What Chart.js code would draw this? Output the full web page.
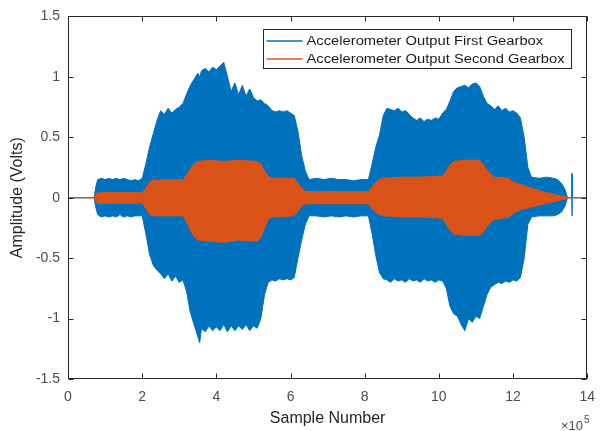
<!DOCTYPE html>
<html><head><meta charset="utf-8">
<script src="https://cdn.jsdelivr.net/npm/chart.js@4.4.0/dist/chart.umd.min.js"></script>
<style>html,body{margin:0;padding:0;background:#fff;}#wrap{width:605px;height:431px;}</style>
</head><body><div id="wrap"><canvas id="c" width="605" height="431"></canvas></div>
<script>
// ---- data (x in units of 1e5 samples, amplitude in volts; envelope) ----
const xTicks = [0, 2, 4, 6, 8, 10, 12, 14];
const yTicks = [-1.5, -1, -0.5, 0, 0.5, 1, 1.5];
const seriesNames = ['Accelerometer Output First Gearbox', 'Accelerometer Output Second Gearbox'];
const xExponentBase = '\u00d710';
const xExponent = '5';

const blueX = [0,0.7,0.75,0.8,0.9,1.0,1.1,1.2,1.3,1.4,
  1.5,1.6,1.7,1.8,1.9,2.0,2.1,2.2,2.3,2.4,
  2.5,2.6,2.7,2.8,2.9,3.0,3.1,3.2,3.3,3.4,
  3.5,3.55,3.6,3.7,3.8,3.9,4.0,4.1,4.2,4.3,
  4.4,4.5,4.6,4.7,4.8,4.9,5.0,5.1,5.2,5.3,
  5.4,5.5,5.6,5.7,5.8,5.9,6.0,6.1,6.2,6.3,
  6.4,6.5,6.7,6.9,7.1,7.3,7.5,7.7,7.9,8.1,
  8.2,8.3,8.4,8.5,8.6,8.7,8.8,8.9,9.0,9.1,
  9.2,9.3,9.4,9.5,9.6,9.7,9.8,9.9,10.0,10.1,
  10.2,10.3,10.4,10.5,10.6,10.7,10.8,10.9,11.0,11.1,
  11.2,11.3,11.4,11.5,11.6,11.7,11.8,11.9,12.0,12.1,
  12.2,12.3,12.4,12.5,12.7,12.9,13.1,13.2,13.3,13.4,
  13.47,13.585,13.59,13.595,14];
const blueHigh = [0,0,0.09,0.15,0.16,0.15,0.16,0.15,0.16,0.15,
  0.16,0.15,0.14,0.15,0.14,0.16,0.28,0.42,0.53,0.64,
  0.72,0.69,0.74,0.70,0.73,0.75,0.78,0.86,0.93,0.98,
  1.03,1.00,1.05,1.07,1.04,1.08,1.06,1.09,1.12,1.00,
  0.88,0.95,0.85,0.93,0.84,0.90,0.83,0.80,0.81,0.78,
  0.76,0.72,0.71,0.72,0.71,0.72,0.70,0.68,0.55,0.35,
  0.22,0.15,0.16,0.15,0.16,0.15,0.15,0.14,0.15,0.15,
  0.28,0.42,0.52,0.68,0.74,0.73,0.72,0.74,0.71,0.72,
  0.69,0.66,0.64,0.66,0.63,0.65,0.64,0.66,0.65,0.70,
  0.73,0.80,0.88,0.91,0.92,0.93,0.91,0.94,0.95,0.92,
  0.84,0.78,0.76,0.73,0.76,0.72,0.74,0.71,0.72,0.70,
  0.66,0.50,0.25,0.17,0.16,0.17,0.16,0.15,0.12,0.07,
  0,0,0.2,0,0];
const blueLow = [0,0,-0.08,-0.14,-0.16,-0.15,-0.16,-0.15,-0.16,-0.14,
  -0.16,-0.15,-0.16,-0.15,-0.15,-0.15,-0.30,-0.47,-0.56,-0.60,
  -0.63,-0.67,-0.63,-0.69,-0.65,-0.70,-0.68,-0.78,-0.95,-1.05,
  -1.15,-1.20,-1.08,-1.11,-1.06,-1.10,-1.07,-1.10,-1.05,-1.11,
  -1.06,-1.10,-1.06,-1.09,-1.05,-1.10,-1.06,-1.08,-1.00,-0.80,
  -0.70,-0.68,-0.69,-0.67,-0.68,-0.67,-0.68,-0.66,-0.50,-0.35,
  -0.22,-0.15,-0.15,-0.16,-0.15,-0.16,-0.15,-0.16,-0.15,-0.15,
  -0.30,-0.48,-0.62,-0.67,-0.68,-0.70,-0.67,-0.69,-0.68,-0.70,
  -0.67,-0.69,-0.68,-0.70,-0.67,-0.69,-0.68,-0.70,-0.68,-0.69,
  -0.75,-0.90,-0.96,-0.98,-1.05,-1.10,-1.00,-1.03,-0.98,-1.00,
  -0.90,-0.80,-0.74,-0.72,-0.70,-0.71,-0.69,-0.70,-0.68,-0.69,
  -0.66,-0.50,-0.22,-0.16,-0.15,-0.15,-0.15,-0.14,-0.12,-0.07,
  0,0,-0.15,0,0];

const orangeX = [0,0.7,0.75,0.8,1.4,2.0,2.1,2.2,2.3,2.7,3.1,3.2,3.3,3.4,3.5,3.8,4.2,4.6,5.1,5.2,
  5.3,5.4,5.5,6.1,6.2,6.3,6.4,7.2,8.1,8.2,8.3,8.4,8.5,9.0,9.5,10.1,10.2,10.3,10.4,10.7,
  11.1,11.2,11.3,11.4,11.5,11.9,12.0,12.2,12.4,12.6,12.8,13.0,13.2,13.4,13.5,14];
const orangeHigh = [0,0,0.03,0.04,0.045,0.04,0.08,0.13,0.145,0.15,0.15,0.19,0.24,0.28,0.30,0.31,0.30,0.31,0.30,0.28,
  0.22,0.18,0.16,0.16,0.12,0.08,0.05,0.05,0.05,0.09,0.13,0.15,0.16,0.17,0.17,0.18,0.22,0.27,0.30,0.31,
  0.31,0.27,0.23,0.20,0.17,0.16,0.13,0.11,0.09,0.07,0.05,0.035,0.02,0.01,0,0];
const orangeLow = [0,0,-0.03,-0.045,-0.045,-0.045,-0.09,-0.14,-0.15,-0.15,-0.15,-0.20,-0.27,-0.32,-0.35,-0.36,-0.37,-0.35,-0.36,-0.33,
  -0.25,-0.18,-0.16,-0.15,-0.11,-0.07,-0.05,-0.05,-0.05,-0.09,-0.12,-0.14,-0.15,-0.16,-0.16,-0.17,-0.22,-0.27,-0.30,-0.31,
  -0.31,-0.28,-0.24,-0.20,-0.18,-0.16,-0.13,-0.10,-0.085,-0.07,-0.055,-0.04,-0.025,-0.01,0,0];

// ---- styling ----
const BLUE = '#0072BD';
const ORANGE = '#D95319';
const FONT = '"Liberation Sans", Arial, Helvetica, sans-serif';
Chart.defaults.font.family = FONT;

const pts = (xs, ys) => xs.map((x, i) => ({x: x, y: ys[i]}));

const matlabAxes = {
  id: 'matlabAxes',
  afterDraw(chart) {
    const {ctx, chartArea, scales} = chart;
    const x = scales.x, y = scales.y;
    const L = Math.round(chartArea.left) + 0.5, R = Math.round(chartArea.right) - 0.5;
    const T = Math.round(chartArea.top) + 0.5, B = Math.round(chartArea.bottom) - 0.5;
    ctx.save();
    ctx.strokeStyle = '#262626';
    ctx.lineWidth = 1;
    ctx.strokeRect(L, T, R - L, B - T);
    const tl = 5;
    ctx.beginPath();
    xTicks.forEach(v => {
      const px = Math.round(x.getPixelForValue(v)) + 0.5;
      ctx.moveTo(px, B); ctx.lineTo(px, B - tl);
      ctx.moveTo(px, T); ctx.lineTo(px, T + tl);
    });
    yTicks.forEach(v => {
      const py = Math.round(y.getPixelForValue(v)) + 0.5;
      ctx.moveTo(L, py); ctx.lineTo(L + tl, py);
      ctx.moveTo(R, py); ctx.lineTo(R - tl, py);
    });
    ctx.stroke();

    // legend box (top-right inside axes)
    ctx.font = '12px ' + FONT;
    const w0 = Math.max(ctx.measureText(seriesNames[0]).width, ctx.measureText(seriesNames[1]).width);
    const sx = 258 / w0;
    const boxR = Math.round(chartArea.right) - 15.5, boxT = Math.round(chartArea.top) + 13.5;
    const boxW = 43 + 258 + 7, boxH = 39;
    const boxL = boxR - boxW;
    ctx.fillStyle = '#ffffff';
    ctx.fillRect(boxL, boxT, boxW, boxH);
    ctx.strokeStyle = '#262626';
    ctx.lineWidth = 1;
    ctx.strokeRect(boxL, boxT, boxW, boxH);
    const rows = [boxT + 11.5, boxT + 29];
    const cols = [BLUE, ORANGE];
    for (let i = 0; i < 2; i++) {
      ctx.beginPath();
      ctx.strokeStyle = cols[i];
      ctx.lineWidth = 1.5;
      ctx.moveTo(boxL + 3, Math.round(rows[i]));
      ctx.lineTo(boxL + 39, Math.round(rows[i]));
      ctx.stroke();
      ctx.save();
      ctx.translate(boxL + 43, rows[i]);
      ctx.scale(sx, 1);
      ctx.fillStyle = '#1a1a1a';
      ctx.textBaseline = 'middle';
      ctx.textAlign = 'left';
      ctx.fillText(seriesNames[i], 0, 1);
      ctx.restore();
    }

    // x exponent label
    ctx.fillStyle = '#4d4d4d';
    ctx.textAlign = 'right';
    ctx.textBaseline = 'alphabetic';
    ctx.font = '13px ' + FONT;
    ctx.fillText(xExponentBase, 583, 430);
    ctx.textAlign = 'left';
    ctx.font = '10px ' + FONT;
    ctx.fillText(xExponent, 584, 423);
    ctx.restore();
  }
};

new Chart(document.getElementById('c'), {
  type: 'line',
  data: {
    datasets: [
      {label: seriesNames[1], data: pts(orangeX, orangeHigh), borderColor: ORANGE, backgroundColor: ORANGE, fill: '+1', borderWidth: 1},
      {label: seriesNames[1] + ' (low)', data: pts(orangeX, orangeLow), borderColor: ORANGE, backgroundColor: ORANGE, fill: false, borderWidth: 1},
      {label: seriesNames[0], data: pts(blueX, blueHigh), borderColor: BLUE, backgroundColor: BLUE, fill: '+1', borderWidth: 1},
      {label: seriesNames[0] + ' (low)', data: pts(blueX, blueLow), borderColor: BLUE, backgroundColor: BLUE, fill: false, borderWidth: 1}
    ]
  },
  options: {
    responsive: false,
    animation: false,
    devicePixelRatio: 1,
    layout: {padding: {left: 0, right: 8, top: 10, bottom: 0}},
    plugins: {legend: {display: false}, tooltip: {enabled: false}},
    elements: {point: {radius: 0}, line: {tension: 0}},
    scales: {
      x: {
        type: 'linear', min: 0, max: 14,
        afterBuildTicks: s => { s.ticks = xTicks.map(v => ({value: v})); },
        afterFit: s => { s.height = 52; },
        grid: {display: false, drawTicks: false},
        border: {display: false},
        ticks: {font: {size: 14}, color: '#4d4d4d', padding: 10, maxRotation: 0, autoSkip: false, callback: v => String(v)},
        title: {display: true, text: 'Sample Number', font: {size: 16}, color: '#262626', padding: {top: 0, bottom: 3}}
      },
      y: {
        type: 'linear', min: -1.5, max: 1.5,
        afterBuildTicks: s => { s.ticks = yTicks.map(v => ({value: v})); },
        afterFit: s => { s.width = 68; },
        grid: {display: false, drawTicks: false},
        border: {display: false},
        ticks: {font: {size: 14}, color: '#4d4d4d', padding: 8, autoSkip: false, callback: v => String(v)},
        title: {display: true, text: 'Amplitude (Volts)', font: {size: 16}, color: '#262626', padding: {top: 8, bottom: 0}}
      }
    }
  },
  plugins: [matlabAxes]
});
</script>
</body></html>
